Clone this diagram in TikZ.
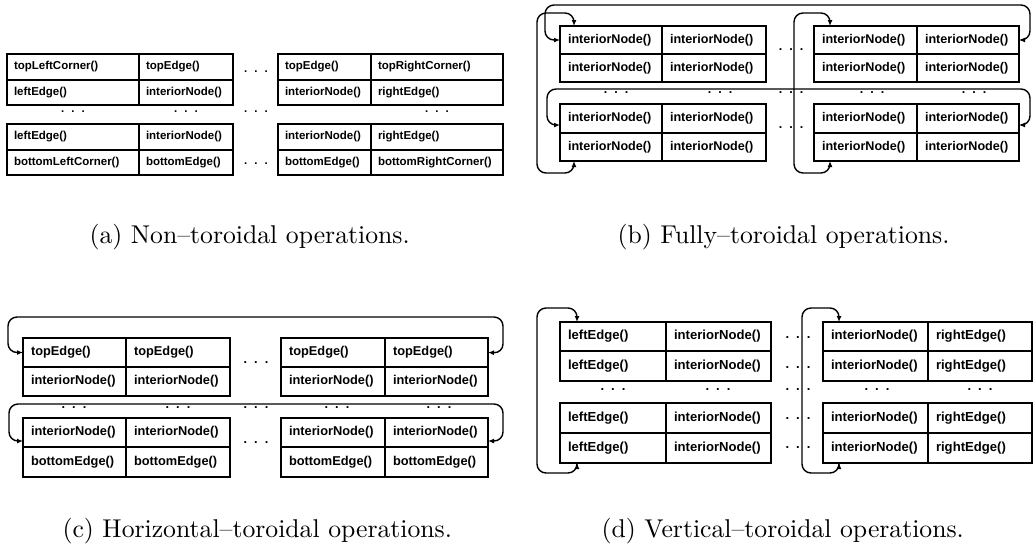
\documentclass[tikz,border=0pt]{standalone}
\usepackage{fontspec}
\newfontfamily\sansbold{Liberation Sans}
\usetikzlibrary{arrows.meta}

% three spaced dots used as ellipses between the cells
\newcommand\dotrow{.\kern7pt.\kern7pt.}

% one labelled cell: name, left x, top y, width, height, text
\newcommand\gridcell[6]{%
  \pgfmathsetmacro\cellinner{#4-2*\cellpad}%
  \node[cellbox, inner xsep=\cellpad pt, text width=\cellinner pt,
        minimum width=#4pt, minimum height=#5pt] (#1) at (#2,#3) {#6};}

\tikzset{
  cellbox/.style={draw, line width=1.8pt, anchor=north west, outer sep=0pt,
    inner ysep=0pt, align=left,
    font=\sansbold\bfseries\fontsize{\pfont}{\pfont}\selectfont},
  dotsnode/.style={inner sep=0pt, anchor=center,
    font=\sansbold\bfseries\fontsize{\pfont}{\pfont}\selectfont},
  wrap/.style={line width=1.4pt, rounded corners=9pt,
    {Latex[length=6pt,width=5pt]}-{Latex[length=6pt,width=5pt]}},
  caption/.style={anchor=base west, inner sep=0pt, scale=2.57, font=\normalsize},
}

\begin{document}
\begin{tikzpicture}[x=1pt,y=-1pt]
\useasboundingbox (0,0) rectangle (1036,550);

% ---------------- (a) non-toroidal ----------------
\def\pfont{11.5}\def\cellpad{7}
\gridcell{a11}{7}{54}{132}{26}{topLeftCorner()}
\gridcell{a12}{139}{54}{94}{26}{topEdge()}
\gridcell{a13}{278}{54}{93}{26}{topEdge()}
\gridcell{a14}{371}{54}{132}{26}{topRightCorner()}
\gridcell{a21}{7}{80}{132}{25}{leftEdge()}
\gridcell{a22}{139}{80}{94}{25}{interiorNode()}
\gridcell{a23}{278}{80}{93}{25}{interiorNode()}
\gridcell{a24}{371}{80}{132}{25}{rightEdge()}
\gridcell{a31}{7}{124}{132}{26}{leftEdge()}
\gridcell{a32}{139}{124}{94}{26}{interiorNode()}
\gridcell{a33}{278}{124}{93}{26}{interiorNode()}
\gridcell{a34}{371}{124}{132}{26}{rightEdge()}
\gridcell{a41}{7}{150}{132}{25}{bottomLeftCorner()}
\gridcell{a42}{139}{150}{94}{25}{bottomEdge()}
\gridcell{a43}{278}{150}{93}{25}{bottomEdge()}
\gridcell{a44}{371}{150}{132}{25}{bottomRightCorner()}
\node[dotsnode] (ad1) at (73,112) {\dotrow};
\node[dotsnode] (ad2) at (186,112) {\dotrow};
\node[dotsnode] (ad4) at (437,112) {\dotrow};
\node[dotsnode] (adm1) at (256,72) {\dotrow};
\node[dotsnode] (adm2) at (256,112) {\dotrow};
\node[dotsnode] (adm3) at (256,164) {\dotrow};

% ---------------- (b) fully toroidal ----------------
\def\pfont{12.6}\def\cellpad{8}
\gridcell{b11}{560}{26}{102}{28}{interiorNode()}
\gridcell{b12}{662}{26}{104}{28}{interiorNode()}
\gridcell{b13}{814}{26}{103}{28}{interiorNode()}
\gridcell{b14}{917}{26}{102}{28}{interiorNode()}
\gridcell{b21}{560}{54}{102}{28}{interiorNode()}
\gridcell{b22}{662}{54}{104}{28}{interiorNode()}
\gridcell{b23}{814}{54}{103}{28}{interiorNode()}
\gridcell{b24}{917}{54}{102}{28}{interiorNode()}
\gridcell{b31}{560}{104}{102}{29}{interiorNode()}
\gridcell{b32}{662}{104}{104}{29}{interiorNode()}
\gridcell{b33}{814}{104}{103}{29}{interiorNode()}
\gridcell{b34}{917}{104}{102}{29}{interiorNode()}
\gridcell{b41}{560}{133}{102}{28}{interiorNode()}
\gridcell{b42}{662}{133}{104}{28}{interiorNode()}
\gridcell{b43}{814}{133}{103}{28}{interiorNode()}
\gridcell{b44}{917}{133}{102}{28}{interiorNode()}
\node[dotsnode] (bd1) at (616,93) {\dotrow};
\node[dotsnode] (bd2) at (720,93) {\dotrow};
\node[dotsnode] (bd3) at (872,93) {\dotrow};
\node[dotsnode] (bd4) at (974,93) {\dotrow};
\node[dotsnode] (bdm1) at (791,50) {\dotrow};
\node[dotsnode] (bdm2) at (791,93) {\dotrow};
\node[dotsnode] (bdm3) at (791,128) {\dotrow};
% column wrap-arounds
\draw[wrap] ([xshift=14pt]b11.north west) |- (537,13) -- (537,173)
  -| ([xshift=14pt]b41.south west);
\draw[wrap] ([xshift=16pt]b13.north west) |- (794,13) -- (794,173)
  -| ([xshift=16pt]b43.south west);
% row wrap-arounds
\draw[wrap] (b11.west) -| (545,5) -| (1030,40) -- (b14.east);
\draw[wrap] ([yshift=-6.5pt]b31.west) -| (547,89) -| (1030,125)
  -- ([yshift=-6.5pt]b34.east);

% ---------------- (c) horizontal-toroidal ----------------
\def\pfont{12.8}\def\cellpad{8}
\gridcell{c11}{23}{338}{103}{29}{topEdge()}
\gridcell{c12}{126}{338}{104}{29}{topEdge()}
\gridcell{c13}{281}{338}{104}{29}{topEdge()}
\gridcell{c14}{385}{338}{103}{29}{topEdge()}
\gridcell{c21}{23}{367}{103}{29}{interiorNode()}
\gridcell{c22}{126}{367}{104}{29}{interiorNode()}
\gridcell{c23}{281}{367}{104}{29}{interiorNode()}
\gridcell{c24}{385}{367}{103}{29}{interiorNode()}
\gridcell{c31}{23}{418}{103}{29}{interiorNode()}
\gridcell{c32}{126}{418}{104}{29}{interiorNode()}
\gridcell{c33}{281}{418}{104}{29}{interiorNode()}
\gridcell{c34}{385}{418}{103}{29}{interiorNode()}
\gridcell{c41}{23}{447}{103}{30}{bottomEdge()}
\gridcell{c42}{126}{447}{104}{30}{bottomEdge()}
\gridcell{c43}{281}{447}{104}{30}{bottomEdge()}
\gridcell{c44}{385}{447}{103}{30}{bottomEdge()}
\node[dotsnode] (cd1) at (74,408) {\dotrow};
\node[dotsnode] (cd2) at (178,408) {\dotrow};
\node[dotsnode] (cd3) at (337,408) {\dotrow};
\node[dotsnode] (cd4) at (439,408) {\dotrow};
\node[dotsnode] (cdm1) at (256,363) {\dotrow};
\node[dotsnode] (cdm2) at (256,408) {\dotrow};
\node[dotsnode] (cdm3) at (256,443) {\dotrow};
% row wrap-arounds
\draw[wrap] (c11.west) -| (8,317) -| (503,353) -- (c14.east);
\draw[wrap] ([yshift=-8.5pt]c31.west) -| (9,404) -| (503,441)
  -- ([yshift=-8.5pt]c34.east);

% ---------------- (d) vertical-toroidal ----------------
\def\pfont{13.1}\def\cellpad{8}
\gridcell{d11}{560}{322}{106}{29}{leftEdge()}
\gridcell{d12}{666}{322}{105}{29}{interiorNode()}
\gridcell{d13}{823}{322}{105}{29}{interiorNode()}
\gridcell{d14}{928}{322}{104}{29}{rightEdge()}
\gridcell{d21}{560}{351}{106}{30}{leftEdge()}
\gridcell{d22}{666}{351}{105}{30}{interiorNode()}
\gridcell{d23}{823}{351}{105}{30}{interiorNode()}
\gridcell{d24}{928}{351}{104}{30}{rightEdge()}
\gridcell{d31}{560}{403}{106}{30}{leftEdge()}
\gridcell{d32}{666}{403}{105}{30}{interiorNode()}
\gridcell{d33}{823}{403}{105}{30}{interiorNode()}
\gridcell{d34}{928}{403}{104}{30}{rightEdge()}
\gridcell{d41}{560}{433}{106}{30}{leftEdge()}
\gridcell{d42}{666}{433}{105}{30}{interiorNode()}
\gridcell{d43}{823}{433}{105}{30}{interiorNode()}
\gridcell{d44}{928}{433}{104}{30}{rightEdge()}
\node[dotsnode] (dd1) at (613,390) {\dotrow};
\node[dotsnode] (dd2) at (718,390) {\dotrow};
\node[dotsnode] (dd3) at (877,390) {\dotrow};
\node[dotsnode] (dd4) at (980,390) {\dotrow};
\node[dotsnode] (ddm1) at (798,338) {\dotrow};
\node[dotsnode] (ddm2) at (798,368) {\dotrow};
\node[dotsnode] (ddm3) at (798,390) {\dotrow};
\node[dotsnode] (ddm4) at (798,419) {\dotrow};
\node[dotsnode] (ddm5) at (798,448) {\dotrow};
% column wrap-arounds
\draw[wrap] ([xshift=17pt]d11.north west) |- (537,308) -- (537,473)
  -| ([xshift=17pt]d41.south west);
\draw[wrap] ([xshift=16pt]d13.north west) |- (802,308) -- (802,473)
  -| ([xshift=16pt]d43.south west);

% ---------------- captions ----------------
\node[caption] (capa) at (89,243) {(a) Non--toroidal operations.};
\node[caption] (capb) at (617,243) {(b) Fully--toroidal operations.};
\node[caption] (capc) at (62,537) {(c) Horizontal--toroidal operations.};
\node[caption] (capd) at (601,537) {(d) Vertical--toroidal operations.};
\end{tikzpicture}
\end{document}
